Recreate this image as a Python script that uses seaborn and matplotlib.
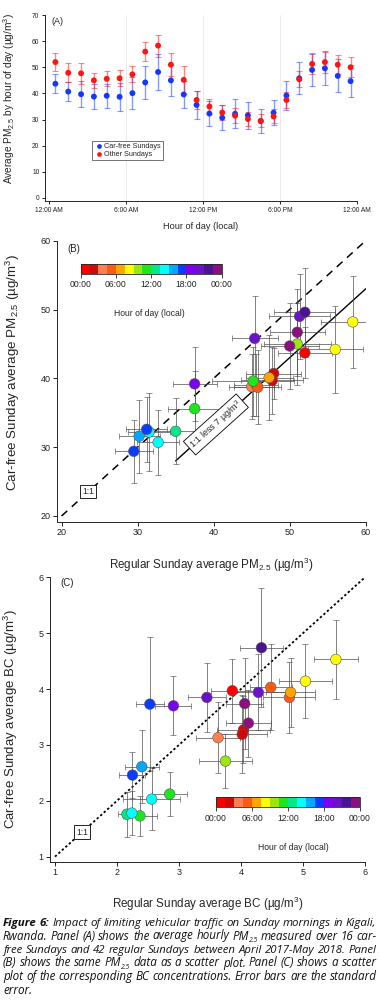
import numpy as np
import pandas as pd
import matplotlib
matplotlib.use("Agg")
import matplotlib.pyplot as plt
import seaborn as sns
from matplotlib.colors import ListedColormap, Normalize
from matplotlib.cm import ScalarMappable
from matplotlib.font_manager import FontProperties

# ---------------- data ----------------
hours = [h + 0.5 for h in range(24)]
carfree_pm = [43.7, 40.7, 39.7, 38.8, 39.1, 38.7, 40.1, 44.2, 48.2, 45.0, 39.6, 35.6,
              32.3, 30.7, 32.2, 31.6, 29.4, 32.6, 39.2, 45.8, 49.0, 49.6, 46.7, 44.7]
carfree_pm_err = [3.7, 3.7, 4.9, 4.7, 4.5, 5.4, 6.2, 6.3, 6.7, 5.9, 5.0, 5.4,
                  4.8, 4.7, 5.6, 5.3, 4.6, 4.7, 5.4, 6.1, 6.2, 6.5, 6.3, 6.2]
other_pm = [52.0, 47.9, 47.7, 45.0, 45.6, 45.8, 47.3, 56.0, 58.3, 51.0, 45.2, 37.5,
            35.0, 32.7, 31.5, 30.2, 29.5, 31.2, 37.5, 45.4, 51.3, 52.0, 51.0, 50.0]
other_pm_err = [3.6, 3.6, 4.1, 3.0, 2.9, 3.1, 3.1, 3.6, 4.2, 4.4, 5.4, 3.5,
                3.0, 2.8, 2.8, 2.7, 2.5, 2.7, 2.9, 3.0, 4.0, 4.0, 3.6, 3.8]

carfree_bc = [3.97, 3.27, 3.19, 3.13, 4.03, 3.85, 3.94, 4.53, 4.14, 2.71, 2.12, 1.73,
              1.76, 1.78, 2.03, 2.61, 2.46, 3.73, 3.70, 3.85, 3.94, 4.74, 3.74, 3.39]
carfree_bc_err = [0.57, 0.60, 0.70, 0.63, 0.77, 0.63, 0.62, 0.70, 0.66, 0.48, 0.39, 0.36,
                  0.40, 0.40, 0.55, 0.65, 0.41, 1.20, 0.53, 0.62, 0.68, 1.07, 0.82, 0.60]
other_bc = [3.86, 4.04, 4.02, 3.63, 4.48, 4.78, 4.80, 5.53, 5.04, 3.75, 2.85, 2.37,
            2.16, 2.24, 2.56, 2.40, 2.25, 2.53, 2.91, 3.45, 4.28, 4.33, 4.06, 4.12]
other_bc_err = [0.35, 0.43, 0.40, 0.35, 0.34, 0.42, 0.40, 0.35, 0.42, 0.42, 0.28, 0.27,
                0.15, 0.15, 0.46, 0.27, 0.21, 0.23, 0.29, 0.31, 0.44, 0.34, 0.30, 0.36]

series_names = ["Car-free Sundays", "Other Sundays"]
series_colors = ["#1436ff", "#ff1414"]
hour_ticks = [0, 6, 12, 18, 24]
hour_ticklabels_a = ["12:00 AM", "6:00 AM", "12:00 PM", "6:00 PM", "12:00 AM"]
hour_ticklabels_cb = ["00:00", "06:00", "12:00", "18:00", "00:00"]
pm_ticks = [20, 30, 40, 50, 60]
bc_ticks = [1, 2, 3, 4, 5, 6]
a_yticks = [0, 10, 20, 30, 40, 50, 60, 70]
one_to_one_pm = [20, 60]
offset_pm_x = [35, 60]
offset_value = 7
one_to_one_bc = [1, 6]
hour_palette = ["#ff0000", "#cf0a0a", "#ff7f50", "#ff5a14", "#ffa500", "#ffff00",
                "#9be60f", "#1ee61e", "#00e88a", "#00ffff", "#00a8ff", "#0a3cff",
                "#7a00ee", "#6a12c8", "#4a1490", "#8c0f80"]

caption_lines = [
    "Figure 6: Impact of limiting vehicular traffic on Sunday mornings in Kigali,",
    "Rwanda. Panel (A) shows the average hourly PM2.5 measured over 16 car-",
    "free Sundays and 42 regular Sundays between April 2017-May 2018. Panel",
    "(B) shows the same PM2.5 data as a scatter plot. Panel (C) shows a scatter",
    "plot of the corresponding BC concentrations. Error bars are the standard",
    "error.",
]

# ---------------- style ----------------
sns.set_style("ticks")
plt.rcParams["font.family"] = ["Liberation Sans", "DejaVu Sans"]
plt.rcParams["mathtext.fontset"] = "custom"
plt.rcParams["mathtext.rm"] = "Liberation Sans"
plt.rcParams["mathtext.it"] = "Liberation Sans:italic"
plt.rcParams["mathtext.bf"] = "Liberation Sans:bold"
plt.rcParams["axes.linewidth"] = 0.7
for ax_ in ("xtick", "ytick"):
    plt.rcParams[f"{ax_}.major.size"] = 3
    plt.rcParams[f"{ax_}.major.width"] = 0.7
    plt.rcParams[f"{ax_}.direction"] = "out"
    plt.rcParams[f"{ax_}.color"] = "#222222"

W, H = 381, 1000
fig = plt.figure(figsize=(W / 100, H / 100), dpi=100)
fig.patch.set_facecolor("white")


def px_axes(left, right, top, bottom):
    return [left / W, 1 - bottom / H, (right - left) / W, (bottom - top) / H]


cmap = ListedColormap(hour_palette)
norm = Normalize(0, 24)

# ---------------- Panel A ----------------
axA = fig.add_axes(px_axes(45, 357, 15, 201))
dfA = pd.DataFrame({
    "hour": hours * 2,
    "pm": carfree_pm + other_pm,
    "err": carfree_pm_err + other_pm_err,
    "series": [series_names[0]] * 24 + [series_names[1]] * 24,
})
for name, col in zip(series_names, series_colors):
    sub = dfA[dfA.series == name]
    axA.errorbar(sub.hour, sub.pm, yerr=sub.err, fmt="none", ecolor=col, alpha=0.5,
                 elinewidth=1.0, capsize=2.3, capthick=0.8, zorder=2)
sns.scatterplot(data=dfA, x="hour", y="pm", hue="series",
                palette=dict(zip(series_names, series_colors)),
                s=18, edgecolor="none", ax=axA, zorder=3, legend=True)
axA.set_xlim(-0.31, 24)
axA.set_ylim(-1.15, 70)
axA.set_xticks(hour_ticks)
axA.set_xticklabels(hour_ticklabels_a)
axA.set_yticks(a_yticks)
axA.tick_params(labelsize=4.8, pad=1.5, length=2.5)
axA.xaxis.grid(True, color="#e8e8e8", lw=0.6)
gls = axA.get_xgridlines()
gls[0].set_visible(False)
gls[-1].set_visible(False)
axA.set_axisbelow(True)
sns.despine(ax=axA)
axA.set_xlabel("Hour of day (local)", fontsize=6.6)
axA.set_ylabel("Average PM$_{2.5}$ by hour of day (µg/m$^3$)", fontsize=7.3)
axA.xaxis.set_label_coords(0.5, -0.115)
axA.yaxis.set_label_coords(-0.09, 0.55)
leg = axA.legend(loc="upper left", bbox_to_anchor=(92 / W, 1 - 141 / H),
                 bbox_transform=fig.transFigure, frameon=True, fancybox=False,
                 fontsize=5.2, handletextpad=0.1, borderpad=0.3, labelspacing=0.12,
                 handlelength=1.3, markerscale=0.8, borderaxespad=0)
leg.get_frame().set_edgecolor("#333333")
leg.get_frame().set_linewidth(0.6)
fig.text(52 / W, 1 - 22 / H, "(A)", fontsize=6.5, va="center", ha="left")

# ---------------- Panel B ----------------
axB = fig.add_axes(px_axes(57, 365.7, 240.7, 521.7))
dfB = pd.DataFrame({"hour": hours, "other": other_pm, "carfree": carfree_pm,
                    "xerr": other_pm_err, "yerr": carfree_pm_err})
axB.plot(one_to_one_pm, one_to_one_pm, color="black", lw=1.1, dashes=(5, 4), zorder=1)
axB.plot(offset_pm_x, [v - offset_value for v in offset_pm_x], color="black", lw=1.0, zorder=1)
axB.errorbar(dfB.other, dfB.carfree, xerr=dfB.xerr, yerr=dfB.yerr, fmt="none",
             ecolor="#4a4a4a", alpha=0.7, elinewidth=0.7, capsize=2, capthick=0.6, zorder=2)
sns.scatterplot(data=dfB, x="other", y="carfree", hue="hour", palette=cmap, hue_norm=norm,
                s=58, edgecolor="#555555", linewidth=0.4, legend=False, ax=axB, zorder=3)
axB.set_xlim(19.4, 60)
axB.set_ylim(19.17, 60)
axB.set_xticks(pm_ticks)
axB.set_yticks(pm_ticks)
axB.tick_params(labelsize=6.5, pad=1.5)
sns.despine(ax=axB)
axB.set_xlabel("Regular Sunday average PM$_{2.5}$ (µg/m$^3$)", fontsize=8.4)
axB.set_ylabel("Car-free Sunday average PM$_{2.5}$ (µg/m$^3$)", fontsize=9.6)
axB.xaxis.set_label_coords(0.5, -0.122)
axB.yaxis.set_label_coords(-0.113, 0.53)
axB.text(23.5, 23.6, "1:1", fontsize=6.2, ha="center", va="center",
         bbox=dict(boxstyle="square,pad=0.25", fc="white", ec="black", lw=0.6), zorder=4)
axB.text(40.3, 33.3, "1:1 less 7 µg/m$^3$", fontsize=6.5, ha="center", va="center",
         rotation=42, rotation_mode="anchor",
         bbox=dict(boxstyle="square,pad=0.25", fc="white", ec="black", lw=0.6), zorder=4)
fig.text(67 / W, 1 - 249 / H, "(B)", fontsize=7, va="center", ha="left")

caxB = fig.add_axes(px_axes(80.7, 221.7, 264.3, 274))
cbB = fig.colorbar(ScalarMappable(norm=norm, cmap=cmap), cax=caxB, orientation="horizontal")
cbB.set_ticks(hour_ticks)
cbB.set_ticklabels(hour_ticklabels_cb)
caxB.tick_params(labelsize=6.2, length=3, pad=1.5, width=0.6)
cbB.outline.set_linewidth(0.6)
fig.text(149 / W, 1 - 314 / H, "Hour of day (local)", fontsize=6.2, ha="center", va="center")

# ---------------- Panel C ----------------
axC = fig.add_axes(px_axes(50, 365, 577.3, 861.7))
dfC = pd.DataFrame({"hour": hours, "other": other_bc, "carfree": carfree_bc,
                    "xerr": other_bc_err, "yerr": carfree_bc_err})
axC.plot(one_to_one_bc, one_to_one_bc, color="black", lw=1.3, dashes=(1.3, 1.3), zorder=1)
axC.errorbar(dfC.other, dfC.carfree, xerr=dfC.xerr, yerr=dfC.yerr, fmt="none",
             ecolor="#4a4a4a", alpha=0.7, elinewidth=0.7, capsize=2, capthick=0.6, zorder=2)
sns.scatterplot(data=dfC, x="other", y="carfree", hue="hour", palette=cmap, hue_norm=norm,
                s=58, edgecolor="#555555", linewidth=0.4, legend=False, ax=axC, zorder=3)
axC.set_xlim(0.92, 6)
axC.set_ylim(0.91, 6)
axC.set_xticks(bc_ticks)
axC.set_yticks(bc_ticks)
axC.tick_params(labelsize=6.5, pad=1.5)
sns.despine(ax=axC)
axC.set_xlabel("Regular Sunday average BC (µg/m$^3$)", fontsize=8.4)
axC.set_ylabel("Car-free Sunday average BC (µg/m$^3$)", fontsize=9.5)
axC.xaxis.set_label_coords(0.5, -0.117)
axC.yaxis.set_label_coords(-0.095, 0.5)
axC.text(1.435, 1.44, "1:1", fontsize=6.2, ha="center", va="center",
         bbox=dict(boxstyle="square,pad=0.25", fc="white", ec="black", lw=0.6), zorder=4)
fig.text(60 / W, 1 - 583 / H, "(C)", fontsize=7, va="center", ha="left")

caxC = fig.add_axes(px_axes(216, 360, 797.3, 807.3))
cbC = fig.colorbar(ScalarMappable(norm=norm, cmap=cmap), cax=caxC, orientation="horizontal")
cbC.set_ticks(hour_ticks)
cbC.set_ticklabels(hour_ticklabels_cb)
caxC.tick_params(labelsize=6.2, length=3, pad=1.5, width=0.6)
cbC.outline.set_linewidth(0.6)
fig.text(293 / W, 1 - 848 / H, "Hour of day (local)", fontsize=6.2, ha="center", va="center")

# ---------------- Caption (justified) ----------------
fig.canvas.draw()
renderer = fig.canvas.get_renderer()
cap_family = "Open Sans"


def fprop(size, kind):
    if kind == "bold":
        return FontProperties(family=cap_family, style="italic", weight="bold", size=size)
    if kind == "sub":
        return FontProperties(family=cap_family, style="italic", size=size * 0.58)
    return FontProperties(family=cap_family, style="italic", size=size)


def twidth(s, prop):
    return renderer.get_text_width_height_descent(s, prop, ismath=False)[0]


def tokenize(line, li):
    out = []
    for i, w in enumerate(line.split(" ")):
        segs = []
        if li == 0 and i < 2:
            segs.append((w, "bold"))
        elif "PM2.5" in w:
            pre, post = w.split("PM2.5")
            if pre:
                segs.append((pre, "normal"))
            segs.append(("PM", "normal"))
            segs.append(("2.5", "sub"))
            if post:
                segs.append((post, "normal"))
        else:
            segs.append((w, "normal"))
        out.append(segs)
    return out


def word_w(segs, size):
    return sum(twidth(s, fprop(size, k)) for s, k in segs)


def space_w(size):
    p = fprop(size, "normal")
    return twidth("a a", p) - twidth("aa", p)


tok_lines = [tokenize(l, i) for i, l in enumerate(caption_lines)]
base = 10.0
nat = [sum(word_w(ws, base) for ws in t) + space_w(base) * (len(t) - 1) for t in tok_lines]
x_left, x_right = 3.0, 376.5
span = x_right - x_left
cap_size = base * span / float(np.median(nat[:-1]))
line_centers = [923, 936.5, 950, 963.5, 977, 990.5]
for li, toks in enumerate(tok_lines):
    size = cap_size
    if li < len(tok_lines) - 1:
        size = min(cap_size, base * span / nat[li])
    widths = [word_w(ws, size) for ws in toks]
    if li < len(tok_lines) - 1 and len(toks) > 1:
        gap = (span - sum(widths)) / (len(toks) - 1)
    else:
        gap = space_w(size)
    x = x_left
    yb = line_centers[li] + 3.0
    for ws, ww in zip(toks, widths):
        xx = x
        for s, k in ws:
            p = fprop(size, k)
            dy = 0.2 * size * 100 / 72 if k == "sub" else 0
            fig.text(xx / W, 1 - (yb + dy) / H, s, fontproperties=p, ha="left",
                     va="baseline", color="#111111")
            xx += twidth(s, p)
        x += ww + gap

fig.savefig("out.png", dpi=100, facecolor="white")
